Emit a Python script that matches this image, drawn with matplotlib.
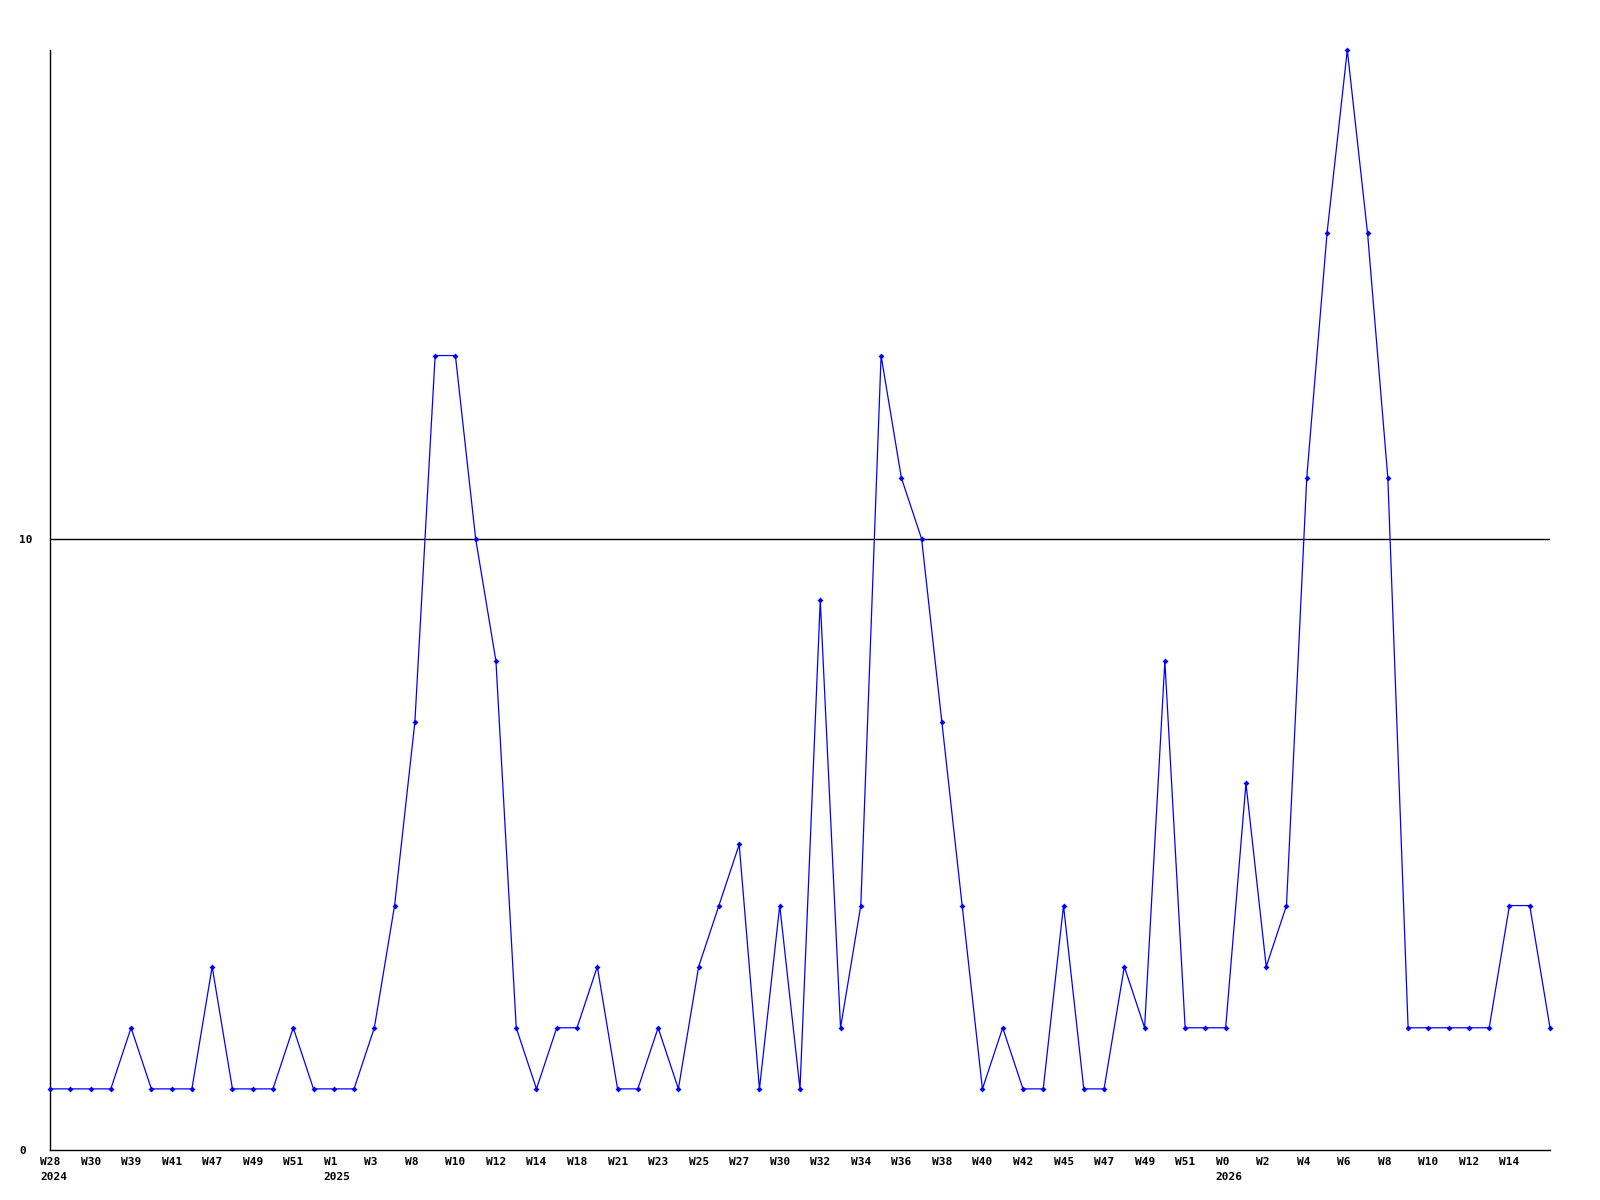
import matplotlib
matplotlib.use("Agg")
import matplotlib.pyplot as plt
import matplotlib.transforms as mtransforms

# weekly counts, one point per week
values = [1, 1, 1, 1, 2, 1, 1, 1, 3, 1,
          1, 1, 2, 1, 1, 1, 2, 4, 7, 13,
          13, 10, 8, 2, 1, 2, 2, 3, 1, 1,
          2, 1, 3, 4, 5, 1, 4, 1, 9, 2,
          4, 13, 11, 10, 7, 4, 1, 2, 1, 1,
          4, 1, 1, 3, 2, 8, 2, 2, 2, 6,
          3, 4, 11, 15, 18, 15, 11, 2, 2, 2,
          2, 2, 4, 4, 2]

# labels on every second week
week_labels = ["W28", "W30", "W39", "W41", "W47", "W49", "W51", "W1", "W3", "W8",
               "W10", "W12", "W14", "W18", "W21", "W23", "W25", "W27", "W30", "W32",
               "W34", "W36", "W38", "W40", "W42", "W45", "W47", "W49", "W51", "W0",
               "W2", "W4", "W6", "W8", "W10", "W12", "W14"]
year_labels = {0: "2024", 7: "2025", 29: "2026"}  # index in week_labels -> year

ytick_vals = [0, 10]

fig = plt.figure(figsize=(16, 12), dpi=100)
ax = fig.add_axes([50 / 1600, 50 / 1200, 1500 / 1600, 1100 / 1200])

x = list(range(len(values)))
ax.plot(x, values, color="#0000ff", linewidth=0.9, marker="D", markersize=3,
        markeredgewidth=0, zorder=3, clip_on=False)

ax.set_xlim(0, len(values) - 1)
ax.set_ylim(0, 18)

for s in ["top", "right"]:
    ax.spines[s].set_visible(False)
for s in ["left", "bottom"]:
    ax.spines[s].set_linewidth(1.0)
    ax.spines[s].set_color("black")

ax.axhline(10, color="black", linewidth=1.0, zorder=1)

font = dict(fontfamily="DejaVu Sans Mono", fontweight="bold", fontsize=8)

ax.set_yticks(ytick_vals)
ax.set_yticklabels([str(v) for v in ytick_vals], **font)
ax.tick_params(axis="y", length=0, pad=22.3)
for lab in ax.get_yticklabels():
    lab.set_horizontalalignment("left")

ax.set_xticks([])
base = ax.get_xaxis_transform() + mtransforms.ScaledTranslation(-10 / 100, 0, fig.dpi_scale_trans)
for i, lab in enumerate(week_labels):
    px = i * 2
    ax.text(px, 0, lab, transform=base + mtransforms.ScaledTranslation(0, -7 / 100, fig.dpi_scale_trans),
            ha="left", va="top", **font)
    if i in year_labels:
        ax.text(px, 0, year_labels[i],
                transform=base + mtransforms.ScaledTranslation(0, -22 / 100, fig.dpi_scale_trans),
                ha="left", va="top", **font)

fig.savefig("out.png", dpi=100)
